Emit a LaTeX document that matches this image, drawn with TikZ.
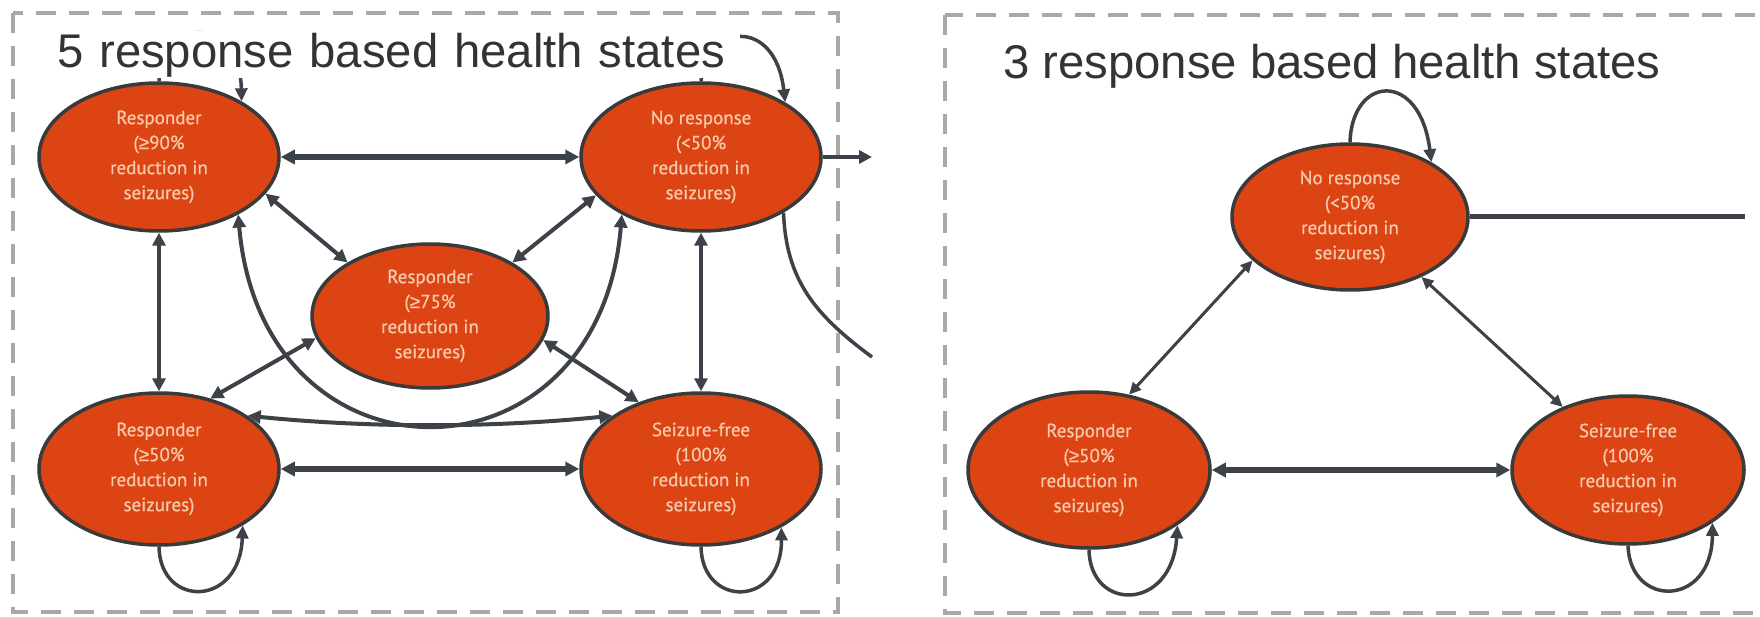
\documentclass[tikz,border=0pt]{standalone}
\usepackage{fontspec}
\setmainfont{Liberation Sans}
\newfontfamily\nodefont[FakeBold=0.6]{PT Sans}
\newfontfamily\gefont[FakeBold=0.6]{Liberation Sans}
\newcommand{\gesym}{{\gefont ≥}}
\usetikzlibrary{shapes.geometric,arrows.meta}
\definecolor{nodec}{RGB}{221,68,20}
\definecolor{bordc}{RGB}{58,58,58}
\definecolor{linec}{RGB}{60,66,72}
\definecolor{txtc}{RGB}{247,202,172}
\definecolor{boxc}{RGB}{168,168,168}
\definecolor{titlec}{RGB}{51,51,51}
\begin{document}
\begin{tikzpicture}[x=1pt,y=-1pt,
  hs/.style={ellipse, draw=bordc, line width=3.5pt, fill=nodec, text=txtc, inner sep=0pt, align=center, font=\nodefont\fontsize{19}{25}\selectfont},
  conn/.style={draw=linec, line width=4pt, {Triangle[length=13pt,width=13pt]}-{Triangle[length=13pt,width=13pt]}},
  thickconn/.style={draw=linec, line width=5.5pt, {Triangle[length=14pt,width=14pt]}-{Triangle[length=14pt,width=14pt]}},
  thinconn/.style={draw=linec, line width=3pt, {Triangle[length=12pt,width=11pt]}-{Triangle[length=12pt,width=11pt]}},
  loopline/.style={draw=linec, line width=3.5pt, -{Triangle[length=13pt,width=12pt]}},
  plainline/.style={draw=linec, line width=3.5pt},
  panelbox/.style={draw=boxc, line width=4.5pt, dash pattern=on 20pt off 13pt},
  headline/.style={font=\fontsize{47.3}{56}\selectfont, text=titlec, inner sep=0pt, text height=36pt, text depth=11pt, anchor=north west}
]
\useasboundingbox (0,0) rectangle (1760,617);
\fill[white] (0,0) rectangle (1760,617);

% dashed panels
\draw[panelbox] (13,13) rectangle (838,612);
\draw[panelbox] (945,15) rectangle (1775,613);

% ---------- left panel ----------
\node[hs, minimum width=240pt, minimum height=148pt] (r90) at (159,157) {Responder\\(\gesym90\%\\reduction in\\seizures)};
\node[hs, minimum width=240pt, minimum height=148pt] (nr) at (701,157) {No response\\(<50\%\\reduction in\\seizures)};
\node[hs, minimum width=236pt, minimum height=144pt] (r75) at (430,316) {Responder\\(\gesym75\%\\reduction in\\seizures)};
\node[hs, minimum width=240pt, minimum height=152pt] (r50) at (159,469) {Responder\\(\gesym50\%\\reduction in\\seizures)};
\node[hs, minimum width=240pt, minimum height=152pt] (sf) at (701,469) {Seizure-free\\(100\%\\reduction in\\seizures)};

\draw[thickconn] (r90.east) -- (nr.west);
\draw[thickconn] (r50.east) -- (sf.west);
\draw[conn] (r90.south) -- (r50.north);
\draw[conn] (nr.south) -- (sf.north);
\draw[conn] (r90.-19) -- (r75.147);
\draw[conn] (nr.200) -- (r75.33);
\draw[conn] (r50.54) -- (r75.191);
\draw[conn] (sf.133) -- (r75.-12);
\draw[conn] (r90.-36) .. controls (262,494) and (599,494) .. (nr.216);
\draw[conn] (r50.31) .. controls (370,428) and (490,428) .. (sf.149);
\draw[loopline] (r90.north) .. controls (160,15) and (240,15) .. (r90.34);
\draw[loopline] (nr.north) .. controls (705,25) and (775,15) .. (nr.33);
\draw[loopline] (r50.south) .. controls (160,608) and (240,608) .. (r50.-34);
\draw[loopline] (sf.south) .. controls (702,608) and (782,608) .. (sf.-36);
\coordinate (exitA) at (872,157);
\coordinate (exitB) at (872,357);
\draw[plainline, line width=4.5pt, -{Triangle[length=13pt,width=13pt]}] (nr.east) -- (exitA);
\draw[plainline] (nr.-34) .. controls (786,280) and (815,315) .. (exitB);

\node[headline, fill=white, text width=683pt, align=left] (t1) at (57,31) {5 response based health states};

% ---------- right panel ----------
\node[hs, minimum width=236pt, minimum height=146pt] (nr2) at (1350,217) {No response\\(<50\%\\reduction in\\seizures)};
\node[hs, minimum width=242pt, minimum height=156pt] (r502) at (1089,470) {Responder\\(\gesym50\%\\reduction in\\seizures)};
\node[hs, minimum width=232pt, minimum height=148pt] (sf2) at (1628,470) {Seizure-free\\(100\%\\reduction in\\seizures)};

\draw[thickconn] (r502.east) -- (sf2.west);
\draw[thinconn] (r502.62) -- (nr2.204);
\draw[thinconn] (nr2.-40) -- (sf2.136);
\coordinate (exitC) at (1745,217);
\draw[plainline, line width=5pt] (nr2.east) -- (exitC);
\draw[loopline] (nr2.north) .. controls (1352,75) and (1420,70) .. (nr2.34);
\draw[loopline] (r502.south) .. controls (1090,612) and (1172,612) .. (r502.-32);
\draw[loopline] (sf2.south) .. controls (1630,608) and (1712,608) .. (sf2.-32);

\node[headline] (t2) at (1003,42) {3 response based health states};
\end{tikzpicture}
\end{document}
